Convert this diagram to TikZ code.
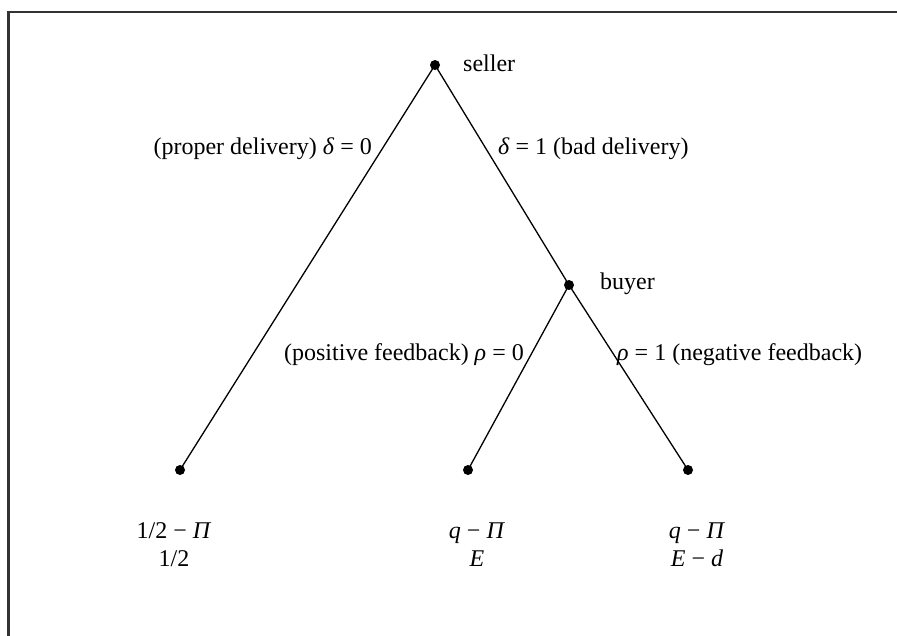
\documentclass[tikz,border=0pt]{standalone}
\usepackage{fontspec}
\setmainfont{Liberation Serif}
\begin{document}
\begin{tikzpicture}[x=1pt,y=-1pt,
  edge/.style={line width=1.3pt},
  dot/.style={circle,fill=black,inner sep=0pt,minimum size=10pt},
  lbl/.style={font=\fontsize{24}{28}\selectfont, inner sep=0pt},
  frame/.style={line width=2.6pt, black!80}]
\useasboundingbox (0,0) rectangle (897,636);
\coordinate (fa) at (8.5,636);
\coordinate (fb) at (8.5,12);
\coordinate (fc) at (897,12);
\draw[frame] (fa) -- (fb) -- (fc);
% nodes
\node[dot] (s) at (435,65) {};
\node[dot] (b) at (569,285) {};
\node[dot] (l1) at (180,470) {};
\node[dot] (l2) at (468,470) {};
\node[dot] (l3) at (688,470) {};
% edges
\draw[edge] (s.center) -- (l1.center);
\draw[edge] (s.center) -- (b.center);
\draw[edge] (b.center) -- (l2.center);
\draw[edge] (b.center) -- (l3.center);
% labels
\node[lbl,anchor=base west] (sl) at (463,72) {seller};
\node[lbl,anchor=base west] (bl) at (600,290) {buyer};
\node[lbl,anchor=base east] (e1) at (372,155) {(proper delivery) \textit{δ} = 0};
\node[lbl,anchor=base west] (e2) at (498,155) {\textit{δ} = 1 (bad delivery)};
\node[lbl,anchor=base east] (e3) at (524,360) {(positive feedback) \textit{ρ} = 0};
\node[lbl,anchor=base west] (e4) at (617,360) {\textit{ρ} = 1 (negative feedback)};
% payoffs
\node[lbl,anchor=base] (p1a) at (174,538) {1/2 − \textit{Π}};
\node[lbl,anchor=base] (p1b) at (174,566) {1/2};
\node[lbl,anchor=base] (p2a) at (477,538) {\textit{q} − \textit{Π}};
\node[lbl,anchor=base] (p2b) at (477,566) {\textit{E}};
\node[lbl,anchor=base] (p3a) at (697,538) {\textit{q} − \textit{Π}};
\node[lbl,anchor=base] (p3b) at (697,566) {\textit{E} − \textit{d}};
\end{tikzpicture}
\end{document}
